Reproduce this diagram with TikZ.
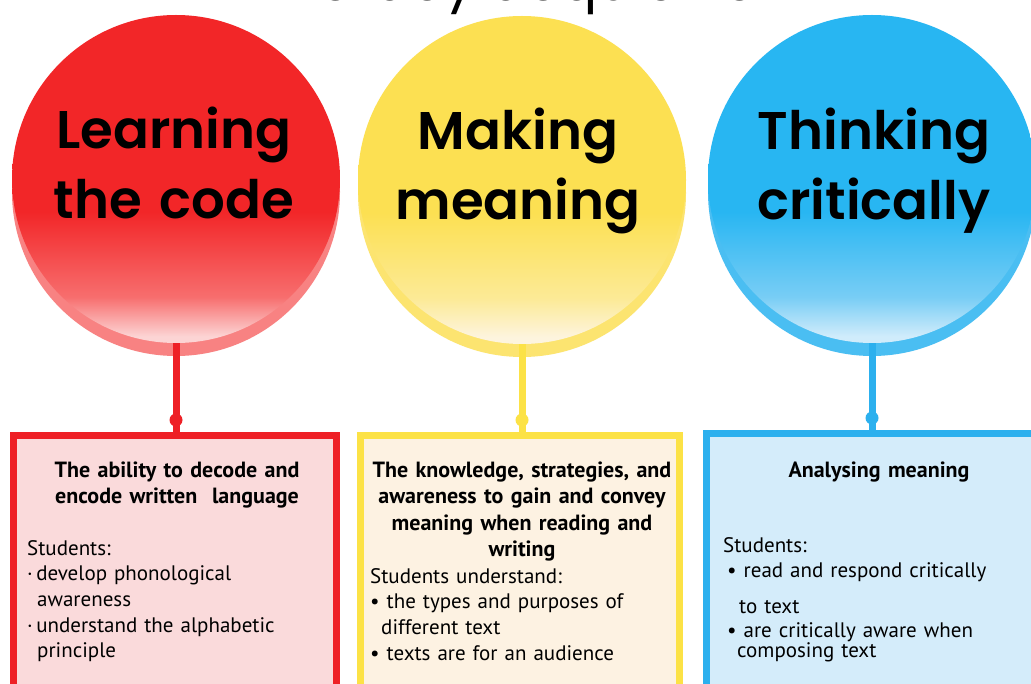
\documentclass[tikz,border=0pt]{standalone}
\usepackage{fontspec}
\setmainfont{PT Sans}
\newfontfamily\comicfont{Poppins}[BoldFont={Poppins SemiBold}]
\usetikzlibrary{calc}

\definecolor{redtop}{RGB}{242,38,40}
\definecolor{redmid}{RGB}{247,110,110}
\definecolor{redlow}{RGB}{252,212,212}
\definecolor{redrim}{RGB}{248,130,130}
\definecolor{redline}{RGB}{238,32,38}
\definecolor{redfill}{RGB}{250,218,219}
\definecolor{yeltop}{RGB}{252,224,82}
\definecolor{yelmid}{RGB}{252,234,150}
\definecolor{yellow}{RGB}{253,244,222}
\definecolor{yelrim}{RGB}{252,228,112}
\definecolor{yelline}{RGB}{252,226,70}
\definecolor{yelfill}{RGB}{253,242,226}
\definecolor{blutop}{RGB}{40,182,242}
\definecolor{blumid}{RGB}{120,205,245}
\definecolor{blulow}{RGB}{208,236,251}
\definecolor{blurim}{RGB}{74,190,242}
\definecolor{bluline}{RGB}{44,176,238}
\definecolor{blufill}{RGB}{212,236,250}

\pgfdeclareverticalshading{redball}{100bp}{color(0bp)=(redlow); color(26bp)=(redlow); color(32bp)=(redmid); color(45bp)=(redtop); color(100bp)=(redtop)}
\pgfdeclareverticalshading{yelball}{100bp}{color(0bp)=(yellow); color(26bp)=(yellow); color(32bp)=(yelmid); color(45bp)=(yeltop); color(100bp)=(yeltop)}
\pgfdeclareverticalshading{bluball}{100bp}{color(0bp)=(blulow); color(26bp)=(blulow); color(32bp)=(blumid); color(45bp)=(blutop); color(100bp)=(blutop)}

\begin{document}
\begin{tikzpicture}[x=1pt,y=-1pt,
  ball/.style={circle,minimum size=328pt,inner sep=0pt,shade,shading=#1},
  ctext/.style={anchor=base,align=center,text width=320pt,inner sep=0pt,font=\comicfont\bfseries\fontsize{53}{70}\selectfont},
  stem/.style={line width=7pt,draw=#1},
  box/.style={draw=#1,line width=7pt,inner sep=0pt},
  head/.style={anchor=base,align=center,text width=330pt,inner sep=0pt,font=\bfseries\fontsize{22}{26.5}\selectfont},
  list/.style={anchor=base west,align=left,text width=310pt,inner sep=0pt,font=\fontsize{21}{25.7}\selectfont}]
\useasboundingbox (0,0) rectangle (1031,684);
\fill[white] (0,0) rectangle (1031,684);
\clip (0,0) rectangle (1031,684);
% title, cut by the top edge
\node[anchor=base,inner sep=0pt,font=\comicfont\fontsize{55}{55}\selectfont] (title) at (527,0.5) {Literacy acquisition};
% rims and discs
\fill[redrim] (176,192) circle (164); \node[ball=redball] (learn) at (176,179) {};
\fill[yelrim] (522,193) circle (164); \node[ball=yelball] (meaning) at (522,180) {};
\fill[blurim] (872,192) circle (164); \node[ball=bluball] (critical) at (872,179) {};
\node[ctext] (learntxt) at (174,149) {Learning\\the code};
\node[ctext] (meaningtxt) at (518,150) {Making\\meaning};
\node[ctext] (criticaltxt) at (874,150) {Thinking\\critically};
% boxes
\node[box=redline,fill=redfill,minimum width=323pt,minimum height=300pt] (codebox) at (175,585.5) {};
\node[box=yelline,fill=yelfill,minimum width=319pt,minimum height=300pt] (meaningbox) at (520,585.5) {};
\node[box=bluline,fill=blufill,minimum width=338pt,minimum height=300pt] (criticalbox) at (875.5,583.5) {};
% stems
\draw[stem=redline] (learn.south) -- (learn.south |- codebox.north); \fill[redline] ($(learn.south |- codebox.north)+(0,-12)$) circle (6.5);
\draw[stem=yelline] (meaning.south) -- (meaning.south |- meaningbox.north); \fill[yelline] ($(meaning.south |- meaningbox.north)+(0,-12)$) circle (6.5);
\draw[stem=bluline] (critical.south) -- (critical.south |- criticalbox.north); \fill[bluline] ($(critical.south |- criticalbox.north)+(0,-12)$) circle (6.5);
% box texts
\node[head] (codehead) at (177,477) {The ability to decode and\\encode written~ language};
\node[list] (codelist) at (27,555) {Students:\\·\,develop phonological\\\hspace*{10pt}awareness\\·\,understand the alphabetic\\\hspace*{10pt}principle};
\node[head,text width=320pt] (meaninghead) at (522,477) {The knowledge, strategies, and\\awareness to gain and convey\\meaning when reading and\\writing};
\node[list] (meaninglist) at (370,583) {Students understand:\\\textbullet\ the types and purposes of\\\hspace*{11pt}different text\\\textbullet\ texts are for an audience};
\node[head] (criticalhead) at (879,478) {Analysing meaning};
\node[list] (criticallist) at (723,552) {Students:\\\hspace*{4pt}\textbullet\ read and respond critically\\[10pt]\hspace*{16pt}to text\\[-2pt]\hspace*{4pt}\textbullet\ are critically aware when\\[-5pt]\hspace*{14pt}composing text};
\end{tikzpicture}
\end{document}
